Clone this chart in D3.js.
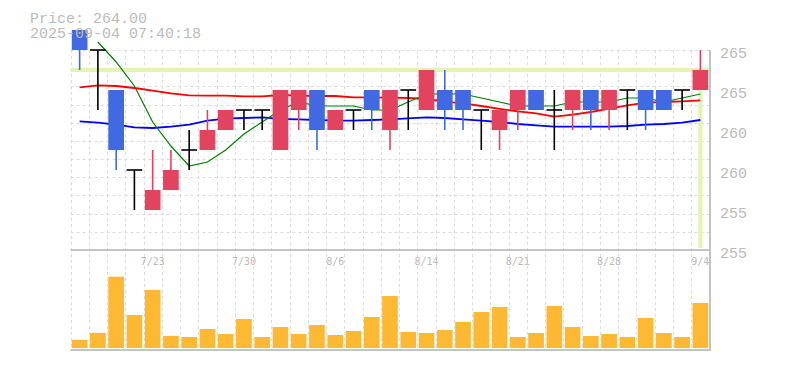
<!DOCTYPE html>
<html>
<head>
<meta charset="utf-8">
<script src="https://cdn.jsdelivr.net/npm/d3@7"></script>
<style>
  body { margin: 0; background: #fff; }
  svg { display: block; }
  text { font-family: "Liberation Mono", "DejaVu Sans Mono", monospace; fill: #bbb; }
</style>
</head>
<body>
<svg id="main" width="785" height="370"></svg>
<script>
// trading days shown (Japan, 2025)
var dates = ["7/16", "7/17", "7/18", "7/22", "7/23", "7/24", "7/25", "7/28", "7/29", "7/30",
             "7/31", "8/1", "8/4", "8/5", "8/6", "8/7", "8/8", "8/12", "8/13", "8/14",
             "8/15", "8/18", "8/19", "8/20", "8/21", "8/22", "8/25", "8/26", "8/27", "8/28",
             "8/29", "9/1", "9/2", "9/3", "9/4"];

var opens  = [266, 265, 263, 259, 257, 258, 260, 260, 261, 262, 262, 260, 262, 263, 261, 262, 263, 261,
              263, 262, 263, 263, 262, 261, 262, 263, 262, 262, 263, 262, 263, 263, 263, 263, 263];
var highs  = [266, 265, 263, 259, 260, 260, 261, 262, 262, 262, 262, 263, 263, 263, 262, 262, 263, 263,
              263, 264, 264, 263, 262, 262, 263, 263, 263, 263, 263, 263, 263, 263, 263, 263, 265];
var lows   = [264, 262, 259, 257, 257, 258, 259, 260, 261, 261, 261, 260, 261, 260, 261, 261, 261, 260,
              261, 262, 261, 261, 260, 260, 261, 262, 260, 261, 261, 261, 261, 261, 262, 262, 263];
var closes = [265, 265, 260, 259, 258, 259, 260, 261, 262, 262, 262, 263, 263, 261, 262, 262, 262, 263,
              263, 264, 262, 262, 262, 262, 263, 262, 262, 263, 262, 263, 263, 262, 262, 263, 264];

// moving averages (green = short, red = mid, blue = long)
var maShort = [null, 265.4, 264.4, 263.2, 261.4, 260.2, 259.2, 259.4, 260.0, 260.8, 261.4, 262.0, 262.4,
               262.2, 262.2, 262.2, 262.0, 262.0, 262.4, 262.8, 262.8, 262.8, 262.6, 262.4, 262.2, 262.2,
               262.2, 262.4, 262.4, 262.4, 262.6, 262.6, 262.4, 262.6, 262.8];
var maMid = [263.13, 263.23, 263.2, 263.1, 262.97, 262.83, 262.73, 262.72, 262.72, 262.68, 262.68, 262.75,
             262.72, 262.7, 262.7, 262.63, 262.63, 262.62, 262.6, 262.55, 262.42, 262.33, 262.2, 262.06,
             261.93, 261.83, 261.67, 261.77, 261.9, 262.07, 262.23, 262.37, 262.4, 262.43, 262.48];
var maLong = [261.43, 261.37, 261.27, 261.13, 261.1, 261.17, 261.27, 261.47, 261.57, 261.6, 261.63, 261.55,
              261.53, 261.5, 261.47, 261.47, 261.5, 261.53, 261.58, 261.63, 261.6, 261.53, 261.47, 261.4,
              261.3, 261.23, 261.17, 261.17, 261.17, 261.17, 261.2, 261.27, 261.3, 261.37, 261.5];

var volumes = [8200, 15100, 71300, 33000, 58000, 12100, 11000, 19000, 14000, 29000, 11000, 21000,
               14000, 23000, 13000, 17000, 31000, 52000, 16000, 15000, 18000, 26000, 36000, 41000,
               11000, 15000, 42000, 21000, 12000, 14000, 11000, 30000, 15000, 11000, 45000];

var priceTicks = [265, 263, 261, 259, 257, 255];
var priceTickLabels = ["265", "265", "260", "260", "255", "255"];

var lastPrice = 264.00;
var stamp = "2025-09-04 07:40:18";

var RED = "#e2445f", BLUE = "#4169e1", BLACK = "#000";

var svg = d3.select("svg#main");
var left = 70.5, right = 709.5;
var priceTop = 50, priceBottom = 250, volTop = 250, volBottom = 348;

var idx = d3.range(dates.length);
var x = d3.scaleBand().domain(idx).range([left, right]).paddingInner(0.14).paddingOuter(0.07);
var cx = function(i) { return x(i) + x.bandwidth() / 2; };

var y = d3.scaleLinear().domain([255, 265]).range([priceBottom, priceTop]);
var yv = d3.scaleLinear().domain([0, 98000]).range([volBottom, volTop]);

// grid
var grid = svg.append("g").attr("stroke", "#dcdcdc").attr("stroke-dasharray", "3,3");
var gy = d3.scaleLinear().domain([0, 11]).range([priceTop, priceBottom]);
grid.selectAll("line.h").data(d3.range(11)).join("line")
    .attr("class", "h")
    .attr("x1", left).attr("x2", right)
    .attr("y1", d => Math.round(gy(d)) + 0.5).attr("y2", d => Math.round(gy(d)) + 0.5);
grid.selectAll("line.v").data(d3.range(dates.length)).join("line")
    .attr("class", "v")
    .attr("x1", d => Math.round(left + d * (right - left) / dates.length) + 0.5)
    .attr("x2", d => Math.round(left + d * (right - left) / dates.length) + 0.5)
    .attr("y1", priceTop).attr("y2", volBottom);

// current price marker
svg.append("line")
    .attr("x1", left).attr("x2", right)
    .attr("y1", y(lastPrice)).attr("y2", y(lastPrice))
    .attr("stroke", "#e3f3b2").attr("stroke-width", 4);
svg.append("line")
    .attr("x1", cx(dates.length - 1)).attr("x2", cx(dates.length - 1))
    .attr("y1", y(lastPrice)).attr("y2", priceBottom - 2)
    .attr("stroke", "#e3f3b2").attr("stroke-width", 4);

// moving averages
var maLine = d3.line()
    .defined(d => d != null)
    .x((d, i) => cx(i))
    .y(d => y(d));
[[maMid, "#ff0000", 1.8], [maLong, "#0000ff", 1.8], [maShort, "#008000", 1.2]].forEach(function(m) {
    svg.append("path").datum(m[0])
        .attr("d", maLine)
        .attr("fill", "none")
        .attr("stroke", m[1])
        .attr("stroke-width", m[2]);
});

// candles
var candles = idx.map(function(i) {
    var col = closes[i] > opens[i] ? RED : (closes[i] < opens[i] ? BLUE : BLACK);
    return {i: i, o: opens[i], h: highs[i], l: lows[i], c: closes[i], color: col};
});
var cg = svg.append("g");
cg.selectAll("line.wick").data(candles).join("line")
    .attr("class", "wick")
    .attr("x1", d => cx(d.i)).attr("x2", d => cx(d.i))
    .attr("y1", d => y(d.h)).attr("y2", d => y(d.l))
    .attr("stroke", d => d.color).attr("stroke-width", 1.6);
cg.selectAll("rect.body").data(candles.filter(d => d.o !== d.c)).join("rect")
    .attr("class", "body")
    .attr("x", d => x(d.i))
    .attr("width", x.bandwidth())
    .attr("y", d => y(Math.max(d.o, d.c)))
    .attr("height", d => Math.abs(y(d.o) - y(d.c)))
    .attr("fill", d => d.color);
cg.selectAll("line.doji").data(candles.filter(d => d.o === d.c)).join("line")
    .attr("class", "doji")
    .attr("x1", d => x(d.i)).attr("x2", d => x(d.i) + x.bandwidth())
    .attr("y1", d => y(d.c)).attr("y2", d => y(d.c))
    .attr("stroke", BLACK).attr("stroke-width", 1.6);

// title, drawn over the first candle like the original
svg.append("text").attr("x", 30).attr("y", 23).style("font-size", "15px")
    .text("Price: " + lastPrice.toFixed(2));
svg.append("text").attr("x", 30).attr("y", 37.5).style("font-size", "15px")
    .text(stamp);

// price axis
var yAxis = d3.axisRight(y).tickValues(priceTicks).tickSize(0)
    .tickFormat((d, i) => priceTickLabels[i]);
var ya = svg.append("g").attr("transform", "translate(720,0)").call(yAxis);
ya.select(".domain").remove();
ya.selectAll("text").attr("x", 0).attr("dy", "0.5em")
    .style("font-size", "15px").attr("fill", "#bbb").attr("text-anchor", "start");

// volume
svg.append("g").selectAll("rect").data(volumes).join("rect")
    .attr("x", (d, i) => x(i))
    .attr("width", x.bandwidth())
    .attr("y", d => yv(d))
    .attr("height", d => volBottom - yv(d))
    .attr("fill", "#fdb834");

// panel borders
var border = svg.append("g").attr("stroke", "#c4c4c4").attr("stroke-width", 2);
border.append("line").attr("x1", left).attr("x2", right + 1).attr("y1", volTop).attr("y2", volTop);
border.append("line").attr("x1", left).attr("x2", right + 1).attr("y1", 350).attr("y2", 350);
border.append("line").attr("x1", right + 0.5).attr("x2", right + 0.5).attr("y1", priceTop).attr("y2", 351);

// date labels
svg.append("g").selectAll("text").data(idx.filter(i => i % 5 === 4)).join("text")
    .attr("x", d => cx(d))
    .attr("y", 264.5)
    .attr("text-anchor", "middle")
    .style("font-size", "10px")
    .style("font-family", "'DejaVu Sans Mono', monospace")
    .attr("fill", "#c4c4c4")
    .text(d => dates[d]);
</script>
</body>
</html>
